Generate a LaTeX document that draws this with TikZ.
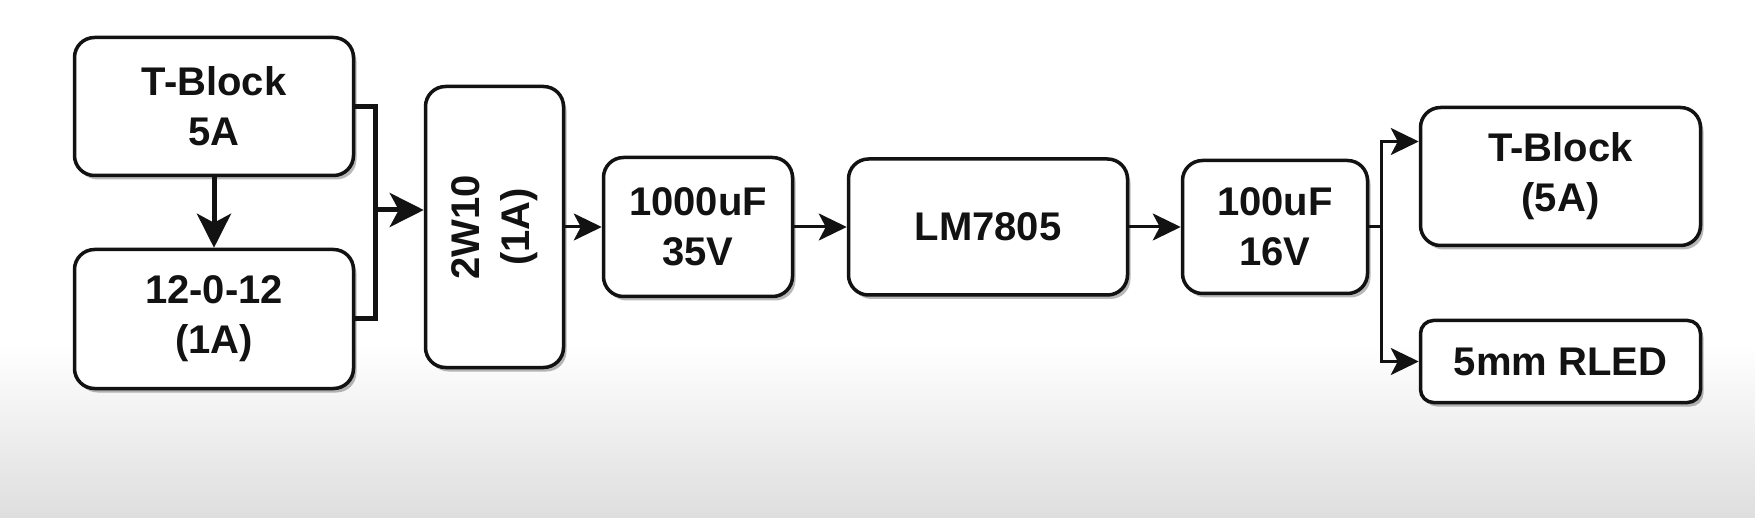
\documentclass[tikz,border=0pt]{standalone}
\usepackage{fontspec}
\setmainfont{Liberation Sans}
\usetikzlibrary{arrows.meta,shadows,calc}
\definecolor{bggray}{RGB}{222,222,222}
\definecolor{ink}{RGB}{18,18,18}
\tikzset{
  blk/.style={draw=ink, line width=3.5pt, rounded corners=20pt, fill=white,
    align=center, inner sep=0pt, font=\fontsize{40}{50}\selectfont\bfseries, text=ink,
    drop shadow={shadow xshift=3pt, shadow yshift=-4pt, opacity=0.28, fill=black}},
  txt/.style={align=center, inner sep=0pt, font=\fontsize{40}{50}\selectfont\bfseries, text=ink},
  thinline/.style={line width=3pt, draw=ink},
  thinarrow/.style={thinline, -{Stealth[length=28pt,width=27pt,inset=7pt]}},
  thickline/.style={line width=5pt, draw=ink},
  thickarrow/.style={thickline, -{Stealth[length=34pt,width=34pt,inset=9pt]}}
}
\begin{document}
\begin{tikzpicture}[x=1pt,y=-1pt]
\fill[white] (0,0) rectangle (1755,518);
\shade[top color=white, bottom color=bggray] (0,345) rectangle (1755,518);
\useasboundingbox (0,0) rectangle (1755,518);

\node[blk, minimum width=279pt, minimum height=138pt] (tb1) at (214,106.5) {T-Block\\5A};
\node[blk, minimum width=279pt, minimum height=139pt] (t12) at (214,319) {12-0-12\\(1A)};
\node[blk, minimum width=138pt, minimum height=281pt] (w10) at (494.5,227) {};
\node[txt, rotate=90] (w10t) at (w10) {2W10\\(1A)};
\node[blk, minimum width=189pt, minimum height=139pt] (c1) at (698,227) {1000uF\\35V};
\node[blk, minimum width=279pt, minimum height=136pt] (lm) at (988,227) {LM7805};
\node[blk, minimum width=185pt, minimum height=133pt] (c2) at (1275,227) {100uF\\16V};
\node[blk, minimum width=280pt, minimum height=138pt] (tb2) at (1560.5,176.5) {T-Block\\(5A)};
\node[blk, minimum width=280pt, minimum height=82pt, rounded corners=13pt] (led) at (1560.5,361.5) {5mm RLED};

\coordinate (jx) at (375,210);
\draw[thickline] (tb1.east) -- (tb1.east -| jx) -- (t12.east -| jx) -- (t12.east);
\draw[thickarrow] (jx) -- (jx -| w10.west);
\draw[thickarrow] (tb1.south) -- (t12.north);

\draw[thinarrow] (w10.east) -- (c1.west);
\draw[thinarrow] (c1.east) -- (c1.east -| lm.west);
\draw[thinarrow] (lm.east) -- (lm.east -| c2.west);

\coordinate (sp) at (1381,227);
\draw[thinline] (c2.east) -- (sp);
\draw[thinarrow] (sp) |- ([yshift=35pt]tb2.west);
\draw[thinarrow] (sp) |- (led.west);
\end{tikzpicture}
\end{document}
